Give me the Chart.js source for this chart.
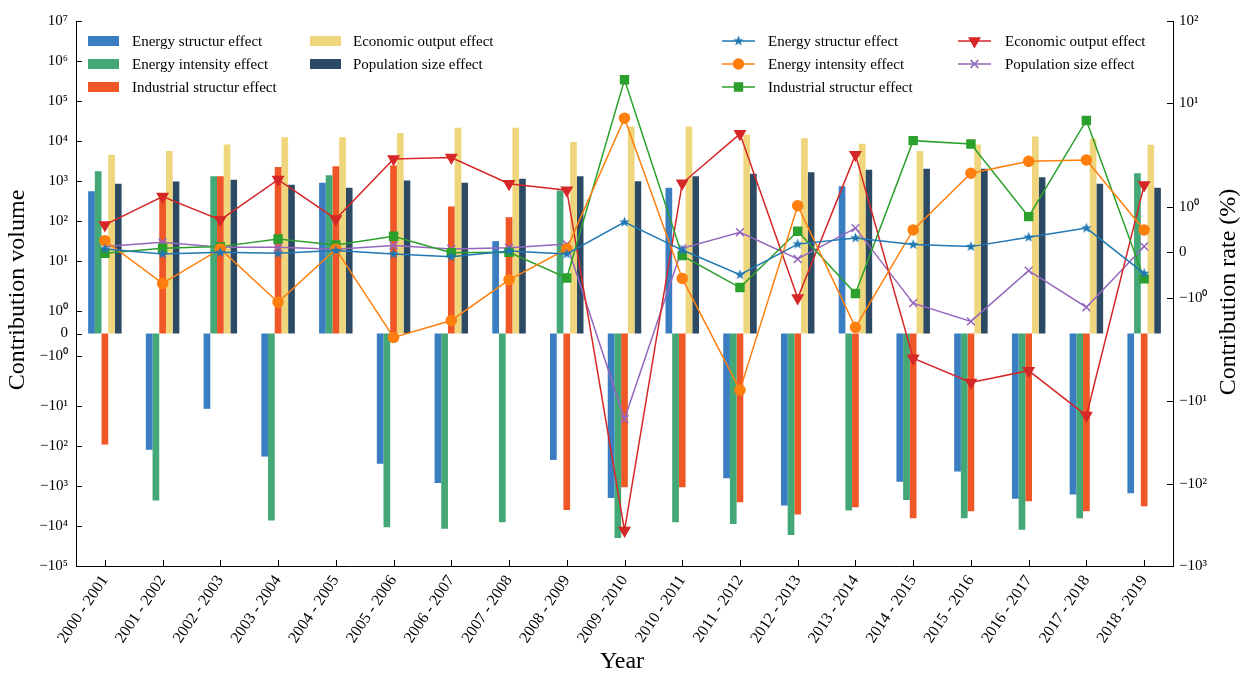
<!DOCTYPE html>
<html>
<head>
<meta charset="utf-8">
<script src="https://cdn.jsdelivr.net/npm/chart.js@4.4.1/dist/chart.umd.min.js"></script>
<style>
  html, body { margin: 0; padding: 0; background: #fff; }
  #wrap { width: 1247px; height: 675px; }
</style>
</head>
<body>
<div id="wrap"><canvas id="chart" width="1247" height="675"></canvas></div>
<script>
const periods = ['2000 - 2001', '2001 - 2002', '2002 - 2003', '2003 - 2004', '2004 - 2005',
  '2005 - 2006', '2006 - 2007', '2007 - 2008', '2008 - 2009', '2009 - 2010', '2010 - 2011',
  '2011 - 2012', '2012 - 2013', '2013 - 2014', '2014 - 2015', '2015 - 2016', '2016 - 2017',
  '2017 - 2018', '2018 - 2019'];

// contribution volume (bars, left axis)
const volEnergyStructure = [560, -125, -11.8, -184, 906, -280, -840, 31.5, -223, -1990, 680, -640, -3090, 746, -780, -436, -2100, -1640, -1520];
const volEnergyIntensity = [1770, -2320, 1327, -7330, 1406, -10800, -11800, -8070, 582, -19900, -8070, -8870, -16700, -4120, -2230, -6410, -12500, -6410, 1577];
const volIndustrial = [-92, 436, 1327, 2230, 2360, 2450, 232, 125, -3960, -1080, -1080, -2550, -5190, -3400, -6410, -4290, -2410, -4290, -3210];
const volEconomic = [4540, 5600, 8220, 12500, 12500, 15800, 21500, 21500, 9400, 23200, 23200, 14600, 11800, 8550, 5600, 8220, 13000, 11400, 8070];
const volPopulation = [855, 977, 1077, 807, 680, 1035, 906, 1140, 1327, 995, 1327, 1520, 1670, 1914, 2030, 2030, 1250, 855, 680];

// contribution rate in % (lines, right axis)
const rateEnergyStructure = [0.074, -0.035, 0, -0.02, 0.04, -0.035, -0.094, 0.03, -0.035, 0.66, 0.05, -0.49, 0.18, 0.315, 0.17, 0.125, 0.33, 0.53, -0.46];
const rateEnergyIntensity = [0.256, -0.68, 0.075, -1.09, 0.07, -1.86, -1.49, -0.6, 0.075, 6.6, -0.57, -7.3, 1.02, -1.64, 0.49, 1.73, 1.99, 2.05, 0.49];
const rateIndustrial = [-0.02, 0.088, 0.125, 0.29, 0.16, 0.35, -0.01, 0, -0.56, 19.3, -0.072, -0.77, 0.46, -0.9, 3.52, 3.2, 0.78, 6.2, -0.58];
const rateEconomic = [0.6, 1.22, 0.71, 1.59, 0.73, 2.11, 2.2, 1.5, 1.36, -370, 1.51, 4.26, -1.0, 2.38, -3.0, -5.9, -4.24, -14.9, 1.47];
const ratePopulation = [0.13, 0.22, 0.11, 0.11, 0.07, 0.15, 0.075, 0.1, 0.18, -16.4, 0.088, 0.44, -0.145, 0.53, -1.11, -1.51, -0.4, -1.2, 0.13];

const volumeTicks = [-1e5, -1e4, -1e3, -100, -10, -1, 0, 1, 10, 100, 1e3, 1e4, 1e5, 1e6, 1e7];
const rateTicks = [-1000, -100, -10, -1, 0, 1, 10, 100];

const FONT = '"Liberation Serif", "Times New Roman", serif';

// symmetric log transform (linthresh 2, linscale 1, base 10)
const LT = 2, LS = 1 / (1 - 1 / 10);
function symlog(v) {
  const a = Math.abs(v);
  if (a <= LT) return v / LT * LS;
  return Math.sign(v) * (LS + Math.log10(a / LT));
}
function symexp(t) {
  const a = Math.abs(t);
  if (a <= LS) return t / LS * LT;
  return Math.sign(t) * LT * Math.pow(10, a - LS);
}

class SymlogScale extends Chart.Scale {
  static id = 'symlog';
  static defaults = {};
  determineDataLimits() {
    this.min = this.options.min;
    this.max = this.options.max;
  }
  buildTicks() {
    const vals = this.id === 'y' ? volumeTicks : rateTicks;
    return vals.map(v => ({ value: v }));
  }
  configure() {
    super.configure();
    this._t0 = symlog(this.min);
    this._t1 = symlog(this.max);
  }
  getPixelForValue(v) {
    return this.getPixelForDecimal((symlog(v) - this._t0) / (this._t1 - this._t0));
  }
  getValueForPixel(p) {
    return symexp(this._t0 + this.getDecimalForPixel(p) * (this._t1 - this._t0));
  }
  getLabelForValue(v) { return String(v); }
}
Chart.register(SymlogScale);

const SUP = { '0': '⁰', '1': '¹', '2': '²', '3': '³', '4': '⁴', '5': '⁵', '6': '⁶', '7': '⁷' };
function powLabel(v) {
  if (v === 0) return '0';
  const e = Math.round(Math.log10(Math.abs(v)));
  return (v < 0 ? '\u2212' : '') + '10' + SUP[String(e)];
}

function starImage(color, r) {
  const c = document.createElement('canvas');
  const s = Math.ceil(r * 2) + 2;
  c.width = c.height = s;
  const g = c.getContext('2d');
  g.fillStyle = color;
  g.beginPath();
  for (let i = 0; i < 10; i++) {
    const rr = i % 2 ? r * 0.42 : r;
    const ang = -Math.PI / 2 + i * Math.PI / 5;
    g.lineTo(s / 2 + rr * Math.cos(ang), s / 2 + rr * Math.sin(ang));
  }
  g.closePath();
  g.fill();
  return c;
}

const barColors = ['#3a7ec1', '#43a776', '#f05726', '#efd67d', '#2c4a64'];
const lineColors = ['#1f77b4', '#ff7f0e', '#2ca02c', '#d62728', '#9467bd'];
const barLabels = ['Energy structur effect', 'Energy intensity effect', 'Industrial structur effect', 'Economic output effect', 'Population size effect'];

const markers = [
  { pointStyle: starImage(lineColors[0], 5.5), radius: 5, rotation: 0 },
  { pointStyle: 'circle', radius: 5, rotation: 0 },
  { pointStyle: 'rect', radius: 5.6, rotation: 0 },
  { pointStyle: 'triangle', radius: 6, rotation: 180 },
  { pointStyle: 'crossRot', radius: 5.5, rotation: 0 }
];

function barSet(i, data) {
  return {
    type: 'bar', label: barLabels[i], data, yAxisID: 'y', order: 2,
    backgroundColor: barColors[i], borderWidth: 0,
    categoryPercentage: 0.58, barPercentage: 1.0
  };
}
function lineSet(i, data) {
  const m = markers[i];
  return {
    type: 'line', label: barLabels[i], data, yAxisID: 'y2', order: 1,
    borderColor: lineColors[i], backgroundColor: lineColors[i], borderWidth: 1.5,
    pointStyle: m.pointStyle, pointRadius: m.radius, pointRotation: m.rotation,
    pointBackgroundColor: lineColors[i], pointBorderColor: lineColors[i], pointBorderWidth: 1.5,
    tension: 0, fill: false
  };
}

// inward ticks, axis titles and the two legends
const decor = {
  id: 'decor',
  afterDatasetsDraw(chart) {
    const { ctx, chartArea: a, scales } = chart;
    ctx.save();
    ctx.strokeStyle = '#000';
    ctx.lineWidth = 1;
    [scales.y, scales.y2].forEach(s => {
      const x0 = s.position === 'left' ? a.left : a.right;
      const dir = s.position === 'left' ? 1 : -1;
      s.ticks.forEach(t => {
        const p = Math.round(s.getPixelForValue(t.value)) + 0.5;
        ctx.beginPath(); ctx.moveTo(x0, p); ctx.lineTo(x0 + dir * 6, p); ctx.stroke();
      });
    });
    scales.x.ticks.forEach((t, i) => {
      const p = Math.round(scales.x.getPixelForTick(i)) + 0.5;
      ctx.beginPath(); ctx.moveTo(p, a.bottom); ctx.lineTo(p, a.bottom - 6); ctx.stroke();
    });

    // axis titles
    ctx.fillStyle = '#000';
    ctx.font = '24px ' + FONT;
    ctx.textAlign = 'center';
    ctx.textBaseline = 'middle';
    ctx.fillText('Year', 622, 662);
    ctx.save(); ctx.translate(18, 290); ctx.rotate(-Math.PI / 2);
    ctx.fillText('Contribution volume', 0, 0); ctx.restore();
    ctx.save(); ctx.translate(1229, 292); ctx.rotate(-Math.PI / 2);
    ctx.fillText('Contribution rate (%)', 0, 0); ctx.restore();

    // legends
    const rows = [41, 64, 87];
    const slots = [[0, 0], [0, 1], [0, 2], [1, 0], [1, 1]];
    ctx.font = '15px ' + FONT;
    ctx.textAlign = 'left';
    slots.forEach(([c, r], i) => {
      const y = rows[r];
      // bar legend
      const bx = [88, 310][c];
      ctx.fillStyle = barColors[i];
      ctx.fillRect(bx, y - 5, 31, 10);
      ctx.fillStyle = '#000';
      ctx.fillText(barLabels[i], [132, 353][c], y + 1);
      // line legend
      const lx = [722, 958][c];
      ctx.strokeStyle = lineColors[i];
      ctx.lineWidth = 1.5;
      ctx.beginPath(); ctx.moveTo(lx, y); ctx.lineTo(lx + 33, y); ctx.stroke();
      ctx.fillStyle = lineColors[i];
      const m = markers[i];
      Chart.helpers.drawPoint(ctx, { pointStyle: m.pointStyle, rotation: m.rotation, radius: m.radius, borderWidth: 1.5 }, lx + 16.5, y);
      ctx.fillStyle = '#000';
      ctx.fillText(barLabels[i], [768, 1005][c], y + 1);
    });
    ctx.restore();
  }
};

new Chart(document.getElementById('chart'), {
  type: 'bar',
  data: {
    labels: periods,
    datasets: [
      barSet(0, volEnergyStructure), barSet(1, volEnergyIntensity), barSet(2, volIndustrial),
      barSet(3, volEconomic), barSet(4, volPopulation),
      lineSet(0, rateEnergyStructure), lineSet(1, rateEnergyIntensity), lineSet(2, rateIndustrial),
      lineSet(3, rateEconomic), lineSet(4, ratePopulation)
    ]
  },
  options: {
    responsive: false,
    devicePixelRatio: 1,
    animation: false,
    layout: { padding: { top: 21, left: 0, right: 0, bottom: 0 } },
    plugins: { legend: { display: false }, tooltip: { enabled: false } },
    scales: {
      x: {
        type: 'category', offset: true,
        grid: { display: false, drawTicks: false },
        border: { display: true, color: '#000', width: 1 },
        ticks: { color: '#000', font: { family: FONT, size: 16 }, minRotation: 56, maxRotation: 56, autoSkip: false, padding: 6 },
        afterFit: s => { s.height = 109; }
      },
      y: {
        type: 'symlog', position: 'left', min: -1e5, max: 1e7,
        grid: { display: false, drawTicks: false },
        border: { display: true, color: '#000', width: 1 },
        ticks: { color: '#000', font: { family: FONT, size: 15 }, padding: 8, autoSkip: false, callback: v => powLabel(v) },
        afterFit: s => { s.width = 76; }
      },
      y2: {
        type: 'symlog', position: 'right', min: -1000, max: 100,
        grid: { display: false, drawTicks: false },
        border: { display: true, color: '#000', width: 1 },
        ticks: { color: '#000', font: { family: FONT, size: 15 }, padding: 6, autoSkip: false, callback: v => powLabel(v) },
        afterFit: s => { s.width = 74; }
      }
    }
  },
  plugins: [decor]
});
</script>
</body>
</html>
